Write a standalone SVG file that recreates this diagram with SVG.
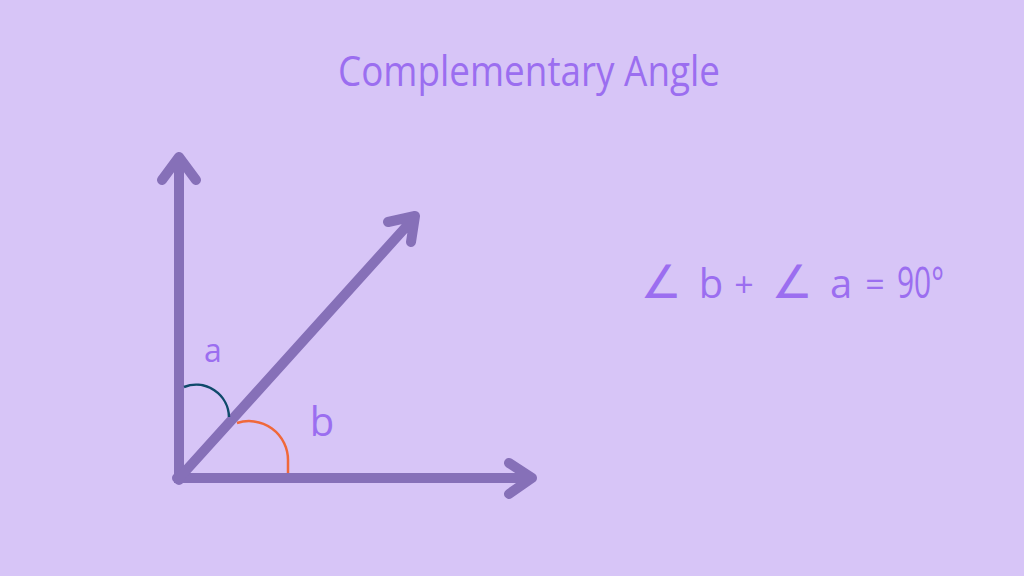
<svg xmlns="http://www.w3.org/2000/svg" width="1024" height="576" viewBox="0 0 1024 576">
  <style>
    .ray { stroke: #8670b8; stroke-width: 10; fill: none; stroke-linecap: round; stroke-linejoin: round; }
    .txt { fill: #9b6ef0; font-family: "Open Sans", "DejaVu Sans", sans-serif; font-weight: 500; }
    .sym { fill: #9b6ef0; font-family: "DejaVu Sans", sans-serif; }
  </style>
  <rect width="1024" height="576" fill="#d7c5f7"/>
  <g id="title">
    <text class="txt" x="529" y="86" font-size="42" text-anchor="middle" textLength="382" lengthAdjust="spacingAndGlyphs">Complementary Angle</text>
  </g>
  <g id="connectors">
    <path class="ray" d="M179,480 L179,158 M162,180 L179,157 L196,180"/>
    <path class="ray" d="M177,478 L532,478 M509,463 L532,478 L509,494"/>
    <path class="ray" d="M181,476 L414,218 M388,222 L415,216 L411,242"/>
    <rect x="174" y="473" width="10" height="10" fill="#8670b8"/>
  </g>
  <g id="arc-a">
    <path d="M184,387 A33,33 0 0 1 229,417" stroke="#0f4a6b" stroke-width="2.5" fill="none"/>
    <text class="txt" x="213" y="362" font-size="32" text-anchor="middle">a</text>
  </g>
  <g id="arc-b">
    <path d="M237,423 A39,39 0 0 1 288,460 L288,473" stroke="#f0683a" stroke-width="2.5" fill="none"/>
    <text class="txt" x="322" y="436" font-size="40" text-anchor="middle">b</text>
  </g>
  <g id="equation">
    <text class="sym" x="661" y="298" font-size="46" text-anchor="middle">∠</text>
    <text class="txt" x="711" y="298" font-size="40" text-anchor="middle">b</text>
    <text class="txt" x="744" y="297" font-size="34" text-anchor="middle">+</text>
    <text class="sym" x="792" y="298" font-size="46" text-anchor="middle">∠</text>
    <text class="txt" x="841" y="298" font-size="40" text-anchor="middle">a</text>
    <text class="txt" x="875" y="297" font-size="34" text-anchor="middle">=</text>
    <text class="txt" x="897" y="298" font-size="43" textLength="47" lengthAdjust="spacingAndGlyphs">90°</text>
  </g>
</svg>
